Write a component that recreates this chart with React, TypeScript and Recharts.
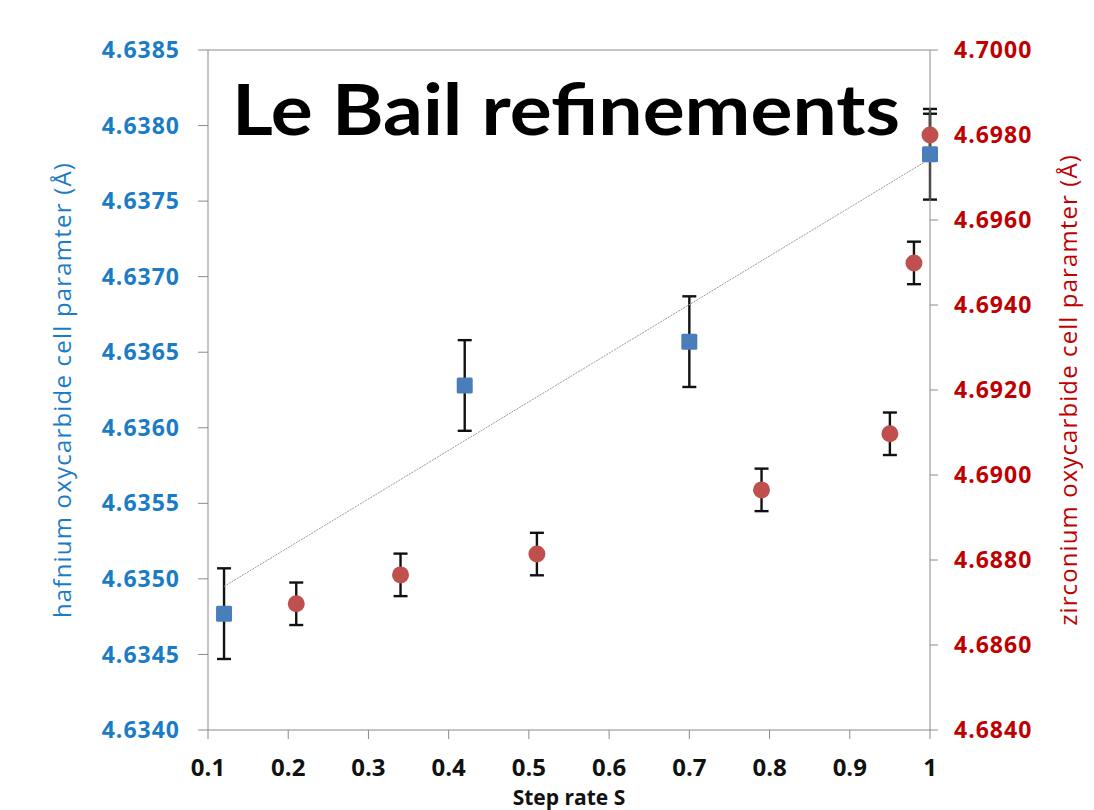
import React from 'react';
import {
  ScatterChart,
  Scatter,
  XAxis,
  YAxis,
  ErrorBar,
  ReferenceLine,
  Customized,
} from 'recharts';

// Hafnium oxycarbide (left axis)
const hfX = [0.12, 0.42, 0.7, 1.0];
const hfY = [4.63477, 4.63628, 4.63657, 4.63781];
const hfErr = [0.0003, 0.0003, 0.0003, 0.0003];

// Zirconium oxycarbide (right axis)
const zrX = [0.21, 0.34, 0.51, 0.79, 0.95, 0.98, 1.0];
const zrY = [4.68697, 4.68765, 4.68814, 4.68965, 4.69097, 4.69499, 4.698];
const zrErr = [0.0005, 0.0005, 0.0005, 0.0005, 0.0005, 0.0005, 0.0005];

// Linear trendline of hafnium series (endpoints)
const trendX = [0.12, 1.0];
const trendY = [4.63495, 4.63778];

const xTicks = [0.1, 0.2, 0.3, 0.4, 0.5, 0.6, 0.7, 0.8, 0.9, 1];
const leftTicks = [4.634, 4.6345, 4.635, 4.6355, 4.636, 4.6365, 4.637, 4.6375, 4.638, 4.6385];
const rightTicks = [4.684, 4.686, 4.688, 4.69, 4.692, 4.694, 4.696, 4.698, 4.7];

const title = 'Le Bail refinements';
const xLabel = 'Step rate S';
const leftLabel = 'hafnium oxycarbide cell paramter (Å)';
const rightLabel = 'zirconium oxycarbide cell paramter (Å)';

const hfData = hfX.map((x, i) => ({ x, y: hfY[i], err: hfErr[i] }));
const zrData = zrX.map((x, i) => ({ x, y: zrY[i], err: zrErr[i] }));
const trendData = trendX.map((x, i) => ({ x, y: trendY[i] }));

const AXIS = '#8a8a8a';
const BLUE_TXT = '#1a7cc7';
const RED_TXT = '#c00000';
const FONT = '"Open Sans", Arial, sans-serif';

const Square = (props: any) => {
  const { cx, cy } = props;
  if (cx == null || cy == null) return <g />;
  return <rect x={cx - 8} y={cy - 8} width={16} height={16} rx={1.5} fill="#4a7ebb" />;
};

const Dot = (props: any) => {
  const { cx, cy } = props;
  if (cx == null || cy == null) return <g />;
  return <circle cx={cx} cy={cy} r={8.5} fill="#c0504d" />;
};

const NoShape = () => <g />;

const Title = () => (
  <text
    x={232}
    y={135}
    fontSize={70}
    fontWeight="bold"
    fontFamily="Lato, 'Open Sans', sans-serif"
    fill="#000"
    textLength={668}
    lengthAdjust="spacingAndGlyphs"
  >
    {title}
  </text>
);

export default function App() {
  return (
    <div style={{ position: 'absolute', left: 0, top: 0, width: 1094, height: 810, background: '#fff' }}>
      <ScatterChart width={1094} height={810} margin={{ top: 50, right: 0, bottom: 0, left: 0 }}>
        <XAxis
          type="number"
          dataKey="x"
          domain={[0.1, 1]}
          ticks={xTicks}
          height={80}
          stroke={AXIS}
          tickSize={9}
          tickMargin={20}
          tick={{ fill: '#111', fontSize: 24, fontWeight: 'bold', fontFamily: FONT }}
          label={{
            value: xLabel,
            position: 'insideBottom',
            offset: 5,
            fill: '#111',
            fontSize: 21,
            fontWeight: 'bold',
            fontFamily: FONT,
          }}
        />
        <YAxis
          yAxisId="left"
          orientation="left"
          type="number"
          dataKey="y"
          domain={[4.634, 4.6385]}
          ticks={leftTicks}
          width={208}
          stroke={AXIS}
          tickSize={10}
          tickMargin={18}
          tickFormatter={(v: number) => v.toFixed(4)}
          tick={{ fill: BLUE_TXT, fontSize: 23, fontWeight: 'bold', fontFamily: FONT, letterSpacing: 1 }}
          label={{
            value: leftLabel,
            angle: -90,
            position: 'insideLeft',
            offset: 62,
            fill: BLUE_TXT,
            fontSize: 24,
            fontFamily: FONT,
            style: { textAnchor: 'middle', letterSpacing: 1.2 },
          }}
        />
        <YAxis
          yAxisId="right"
          orientation="right"
          type="number"
          dataKey="y"
          domain={[4.684, 4.7]}
          ticks={rightTicks}
          width={164}
          stroke={AXIS}
          tickSize={8}
          tickMargin={16}
          tickFormatter={(v: number) => v.toFixed(4)}
          tick={{ fill: RED_TXT, fontSize: 23, fontWeight: 'bold', fontFamily: FONT, letterSpacing: 1 }}
          label={{
            value: rightLabel,
            angle: -90,
            position: 'insideRight',
            offset: 26,
            fill: RED_TXT,
            fontSize: 24,
            fontFamily: FONT,
            style: { textAnchor: 'middle', letterSpacing: 1.1 },
          }}
        />
        <ReferenceLine yAxisId="left" y={4.6385} stroke={AXIS} strokeWidth={1} />
        <Scatter
          yAxisId="left"
          data={trendData}
          line={{ stroke: '#9a9a9a', strokeWidth: 1, strokeDasharray: '2 1' }}
          shape={NoShape}
          isAnimationActive={false}
          legendType="none"
        />
        <Scatter yAxisId="left" data={hfData} shape={Square} isAnimationActive={false}>
          <ErrorBar dataKey="err" direction="y" width={7} stroke="#111" strokeWidth={2.4} isAnimationActive={false} />
        </Scatter>
        <Scatter yAxisId="right" data={zrData} shape={Dot} isAnimationActive={false}>
          <ErrorBar dataKey="err" direction="y" width={7} stroke="#111" strokeWidth={2.4} isAnimationActive={false} />
        </Scatter>
        <Customized component={Title} />
      </ScatterChart>
    </div>
  );
}
